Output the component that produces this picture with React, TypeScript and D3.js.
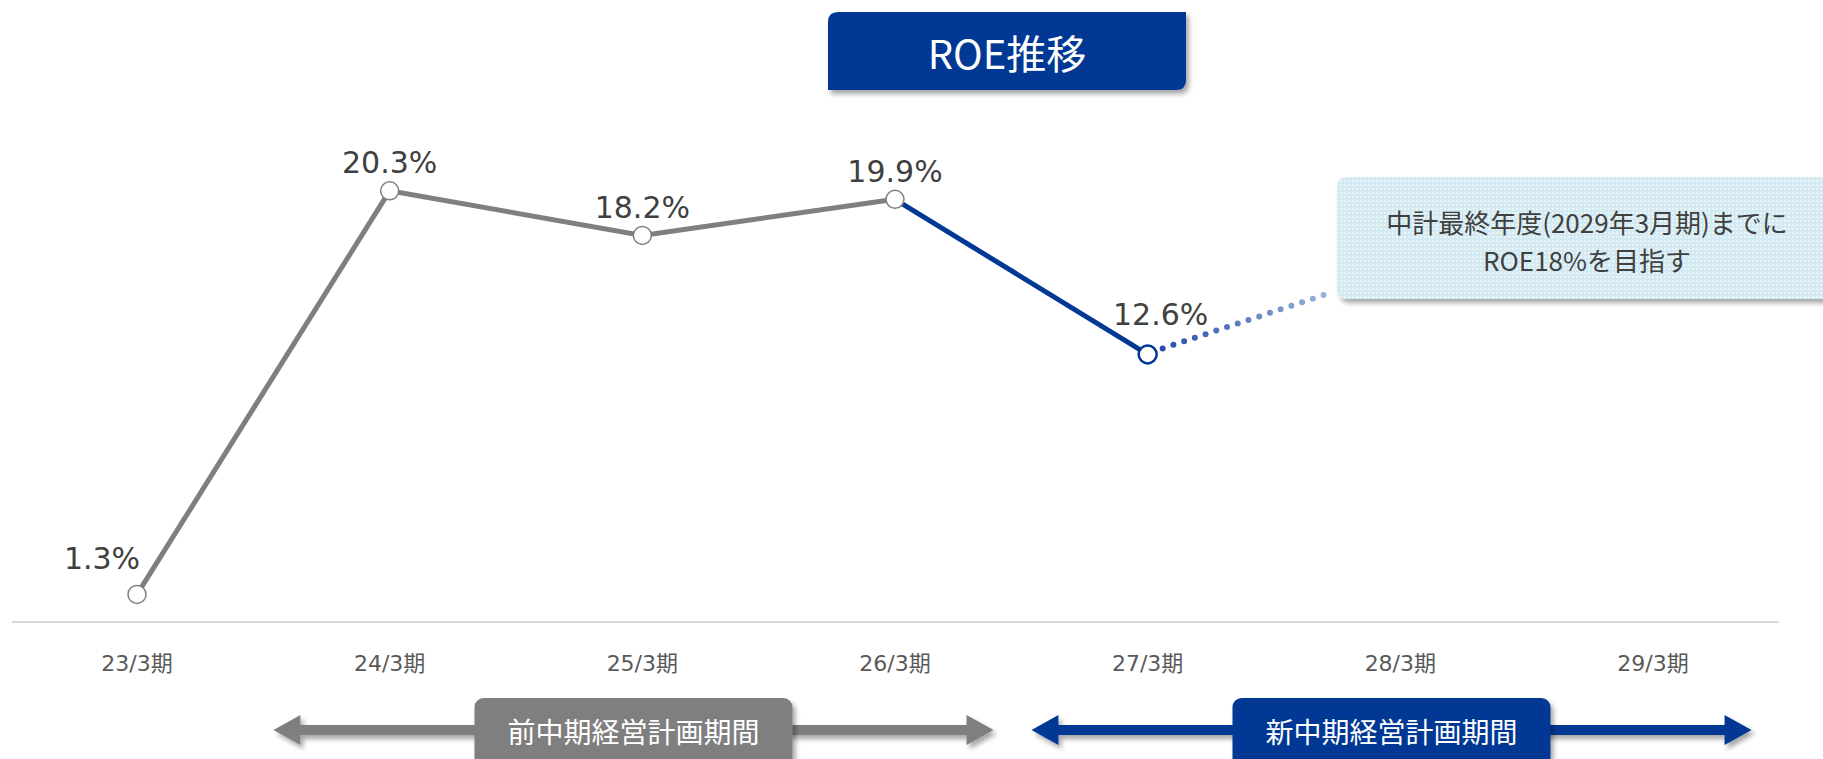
import React from 'react';
import * as d3 from 'd3';

const categories = ['23/3期', '24/3期', '25/3期', '26/3期', '27/3期', '28/3期', '29/3期'];
const roeValues = [1.3, 20.3, 18.2, 19.9, 12.6];
const roeLabels = ['1.3%', '20.3%', '18.2%', '19.9%', '12.6%'];
const pastPlan = { label: '前中期経営計画期間', from: '24/3期', to: '26/3期' };
const newPlan = { label: '新中期経営計画期間', from: '27/3期', to: '29/3期' };
const title = 'ROE推移';
const noteLines = ['中計最終年度(2029年3月期)までに', 'ROE18%を目指す'];

const W = 1823;
const H = 759;
const GRAY = '#7f7f7f';
const BLUE = '#003894';
const TEXT = '#404040';
const LATIN = '"DejaVu Sans", "Noto Sans CJK JP", sans-serif';
const JP = '"Noto Sans CJK JP", sans-serif';

export default function App() {
  const x = d3.scalePoint<string>().domain(categories).range([137, 1653]);
  const y = d3.scaleLinear().domain([0, 25]).range([622, 91]);
  const step = x.step();

  const pts = roeValues.map((v, i) => [x(categories[i]) as number, y(v)] as [number, number]);
  const line = d3.line<[number, number]>().x(d => d[0]).y(d => d[1]);
  const pastPts = pts.slice(0, 4);
  const newPts = pts.slice(3, 5);

  // label placement: first point label sits left, last point right, others above
  const labelPos = (i: number) => {
    const [px, py] = pts[i];
    if (i === 0) return [px - 35, py - 36];
    if (i === pts.length - 1) return [px + 13, py - 40];
    return [px, py - 28];
  };

  // callout box
  const box = { x: 1337, y: 177, w: 520, h: 122 };
  const last = pts[pts.length - 1];
  const dotEnd: [number, number] = [box.x - 4, box.y + 115];

  const arrow = (plan: typeof pastPlan, color: string) => {
    const x0 = (x(plan.from) as number) - step * 0.46;
    const x1 = (x(plan.to) as number) + step * 0.39;
    const cy = 730;
    const sh = 5;
    const hh = 15;
    const hl = 27;
    const d = `M${x0},${cy} L${x0 + hl},${cy - hh} L${x0 + hl},${cy - sh} L${x1 - hl},${cy - sh} L${x1 - hl},${cy - hh} L${x1},${cy} L${x1 - hl},${cy + hh} L${x1 - hl},${cy + sh} L${x0 + hl},${cy + sh} L${x0 + hl},${cy + hh} Z`;
    const mid = (x0 + x1) / 2;
    return (
      <g key={plan.label}>
        <path d={d} fill={color} filter="url(#shadow)" />
        <rect x={mid - 159} y={698} width={318} height={72} rx={9} fill={color} filter="url(#shadow)" />
        <text x={mid} y={731} textAnchor="middle" dominantBaseline="central" fill="#fff" fontSize={28} fontFamily={JP}>
          {plan.label}
        </text>
      </g>
    );
  };

  return (
    <div style={{ position: 'absolute', left: 0, top: 0 }}>
      <svg width={W} height={H} style={{ display: 'block', background: '#fff' }}>
        <defs>
          <filter id="shadow" x="-10%" y="-20%" width="130%" height="160%">
            <feDropShadow dx={3} dy={4} stdDeviation={2.5} floodColor="#000" floodOpacity={0.35} />
          </filter>
          <pattern id="dots" width={4} height={4} patternUnits="userSpaceOnUse">
            <rect width={4} height={4} fill="#d3eaf2" />
            <rect x={0} y={0} width={2} height={2} fill="#eaf5f9" />
          </pattern>
          <linearGradient id="dotGrad" gradientUnits="userSpaceOnUse" x1={last[0]} y1={last[1]} x2={dotEnd[0]} y2={dotEnd[1]}>
            <stop offset="0%" stopColor="#1e46a0" />
            <stop offset="100%" stopColor="#9fb6de" />
          </linearGradient>
        </defs>

        {/* title */}
        <path
          d="M838,12 L1186,12 L1186,80 Q1186,90 1176,90 L828,90 L828,22 Q828,12 838,12 Z"
          fill="#003893"
          filter="url(#shadow)"
        />
        <text x={1007} y={52} textAnchor="middle" dominantBaseline="central" fill="#fff" fontSize={40} fontFamily={JP}>
          {title}
        </text>

        {/* baseline */}
        <line x1={12} x2={1779} y1={y(0)} y2={y(0)} stroke="#d9d9d9" strokeWidth={2} />

        {/* category labels */}
        {categories.map(c => (
          <text key={c} x={x(c)} y={663} textAnchor="middle" dominantBaseline="central" fill="#595959" fontSize={22} fontFamily={LATIN}>
            {c}
          </text>
        ))}

        {/* callout */}
        <rect x={box.x} y={box.y} width={box.w} height={box.h} rx={9} fill="url(#dots)" filter="url(#shadow)" />
        {noteLines.map((t, i) => (
          <text key={t} x={1587} y={221 + i * 38} textAnchor="middle" dominantBaseline="central" fill={TEXT} fontSize={26} fontFamily={JP}>
            {t}
          </text>
        ))}

        {/* dotted forecast toward callout */}
        <line
          x1={last[0] + 15}
          y1={last[1] - 6}
          x2={dotEnd[0]}
          y2={dotEnd[1]}
          stroke="url(#dotGrad)"
          strokeWidth={6}
          strokeLinecap="round"
          strokeDasharray="0 11.3"
        />

        {/* lines */}
        <path d={line(pastPts) || ''} fill="none" stroke={GRAY} strokeWidth={5} />
        <path d={line(newPts) || ''} fill="none" stroke={BLUE} strokeWidth={5} />

        {/* markers */}
        {pts.map((p, i) => (
          <circle
            key={i}
            cx={p[0]}
            cy={p[1]}
            r={9}
            fill="#fff"
            stroke={i === pts.length - 1 ? BLUE : GRAY}
            strokeWidth={i === pts.length - 1 ? 2.5 : 1.5}
          />
        ))}

        {/* value labels */}
        {roeLabels.map((t, i) => {
          const [lx, ly] = labelPos(i);
          return (
            <text key={t} x={lx} y={ly} textAnchor="middle" dominantBaseline="central" fill={TEXT} fontSize={30} fontFamily={LATIN}>
              {t}
            </text>
          );
        })}

        {/* plan period arrows */}
        {arrow(pastPlan, GRAY)}
        {arrow(newPlan, '#003893')}
      </svg>
    </div>
  );
}
